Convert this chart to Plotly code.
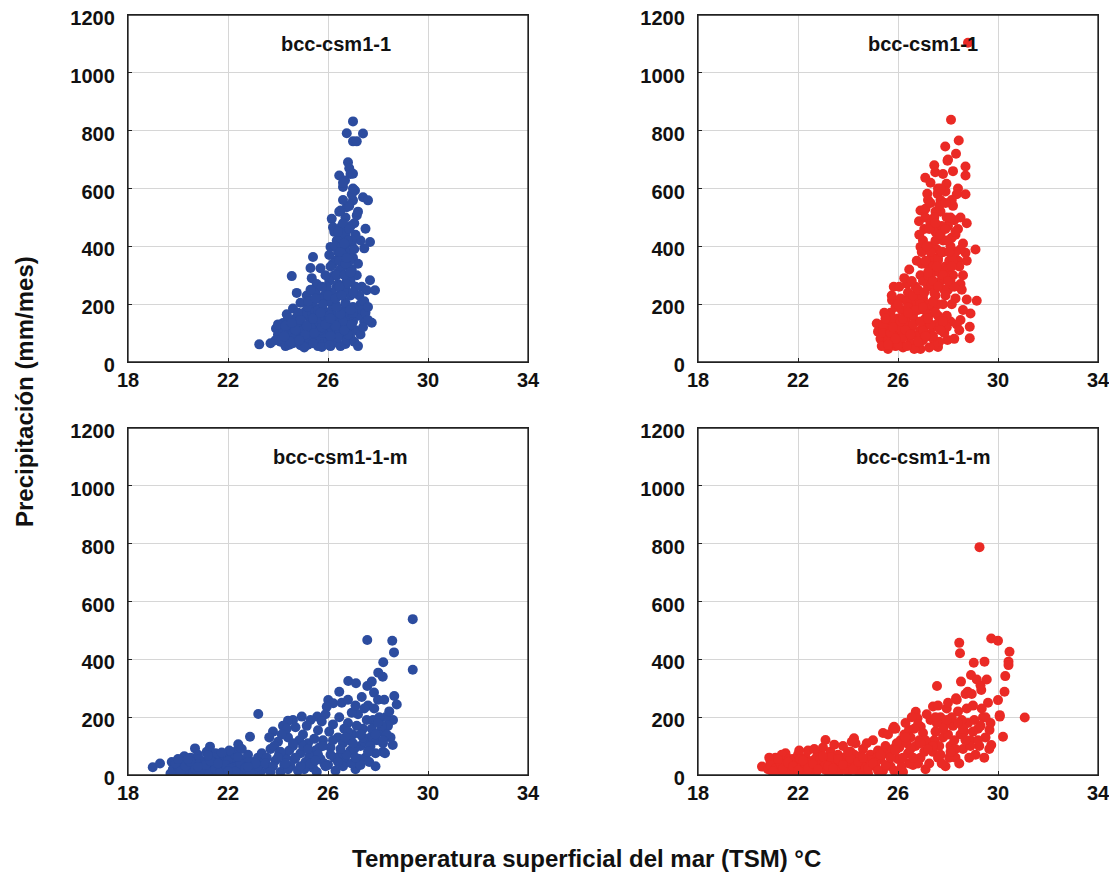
import plotly.graph_objects as go

# ---------------- data ----------------
# Panel A: bcc-csm1-1 (historical, blue)
t_a = [27.0, 26.75, 27.4, 27.0, 27.15, 26.8, 26.85, 26.9, 26.45, 26.68, 27.0, 26.6, 27.08, 27.4, 27.6, 27.0,
       26.75, 26.5, 27.15, 26.15, 26.2, 26.75, 27.5, 27.68, 26.1, 27.45, 25.4, 25.7, 24.55, 25.35, 27.68, 27.35,
       27.55, 27.88, 24.75, 25.4, 23.25, 27.75, 27.45, 23.92,
       24.1, 24.3, 24.4, 24.5, 24.6, 24.7, 24.8, 24.9, 25.0, 25.0, 25.1, 25.2, 25.2, 25.3, 25.4, 25.4, 25.5, 25.5,
       25.6, 25.6, 25.7, 25.7, 25.8, 25.8, 25.9, 25.9, 26.0, 26.0, 26.1, 26.1, 26.2, 26.2, 26.3, 26.3, 26.4, 24.2,
       24.0, 23.9, 23.7, 24.35, 24.6, 24.9, 25.15, 24.45, 25.05, 25.75, 26.05, 26.5, 26.7, 26.9, 27.1, 27.3, 27.2,
       27.0, 26.8, 26.6, 26.55, 26.45, 26.35, 26.25, 26.15, 26.05, 25.95, 25.85, 25.65, 25.5, 26.7, 26.9, 27.1,
       27.3, 27.15, 26.95, 26.75, 26.6, 26.5, 26.4, 26.3, 26.2, 26.1, 26.35, 26.5, 26.65, 26.8, 27.0, 27.2, 27.3,
       27.1, 26.9, 26.7, 26.55, 26.4, 26.25, 26.85, 26.95, 26.6, 27.2, 26.7, 26.95, 27.05, 26.3, 26.45, 26.6,
       27.0, 27.25, 27.35, 27.5, 27.6, 27.4, 27.0, 26.85, 26.65, 26.3, 26.2, 26.0, 25.8, 25.6, 25.3, 25.0, 24.8,
       24.55, 24.25, 24.0, 25.35, 25.9, 26.45, 26.75, 27.05, 27.2, 25.2, 24.65, 24.15, 26.55, 26.85, 27.05, 26.9,
       25.55, 25.75, 26.0, 25.45, 24.95, 26.15, 27.45, 27.6, 25.3, 26.05, 25.9,
       24.2, 24.4, 24.6, 24.8, 25.0, 25.2, 25.4, 25.6, 25.8, 26.0, 26.2, 26.4, 26.6, 26.8, 27.0,
       24.3, 24.5, 24.7, 24.9, 25.1, 25.3, 25.5, 25.7, 25.9, 26.1, 26.3, 26.5, 26.7, 26.9,
       24.25, 24.55, 24.85, 25.15, 25.45, 25.75, 26.05, 26.35, 26.65, 26.95,
       26.3, 26.4, 26.5, 26.6, 26.7, 26.8, 26.9, 27.0, 26.35, 26.45, 26.55, 26.65, 26.75, 26.85, 26.95,
       26.4, 26.5, 26.6, 26.7, 26.8, 26.9, 26.45, 26.55, 26.65, 26.75, 26.85,
       25.2, 25.4, 25.6, 25.8, 26.0, 25.3, 25.5, 25.7, 25.9, 26.1]
p_a = [832, 791, 790, 763, 763, 691, 670, 650, 645, 628, 651, 605, 593, 570, 559, 559,
       535, 524, 507, 495, 466, 461, 461, 415, 398, 393, 363, 324, 297, 290, 283, 260,
       248, 248, 239, 250, 61, 136, 140, 116,
       70, 55, 90, 120, 65, 150, 100, 58, 130, 80, 175, 60, 110, 145, 75, 200, 95, 160,
       55, 125, 185, 85, 140, 62, 105, 215, 170, 75, 130, 55, 190, 95, 150, 68, 115, 135,
       95, 75, 65, 165, 185, 205, 230, 60, 50, 52, 58, 55, 62, 85, 110, 95, 160,
       140, 120, 90, 175, 230, 260, 300, 240, 280, 260, 230, 220, 240, 200, 230, 260,
       200, 300, 320, 280, 330, 360, 310, 350, 340, 330, 420, 430, 400, 380, 360, 340, 420,
       440, 470, 500, 470, 380, 450, 540, 580, 560, 520, 440, 410, 480, 400, 520, 620,
       600, 230, 180, 170, 145, 120, 190, 160, 145, 200, 120, 100, 180, 150, 170, 160, 130,
       100, 110, 130, 90, 140, 100, 75, 70, 55, 85, 75, 80, 260, 300, 390, 360,
       270, 260, 210, 125, 110, 180, 210, 190, 325, 370, 300,
       100, 150, 80, 170, 110, 190, 65, 140, 100, 230, 160, 85, 140, 95, 170,
       125, 70, 110, 145, 95, 120, 175, 110, 155, 90, 125, 165, 205, 180,
       88, 135, 75, 125, 100, 120, 160, 190, 110, 130,
       220, 270, 320, 370, 250, 330, 280, 240, 300, 350, 400, 300, 270, 350, 420,
       450, 380, 480, 340, 420, 310, 260, 230, 410, 360, 460,
       210, 150, 180, 200, 140, 250, 220, 170, 130, 150]

# Panel B: bcc-csm1-1 (scenario, red)
t_b = [28.8, 28.12, 28.43, 27.89, 28.32, 27.98, 28.7, 27.49, 27.09, 28.7, 27.94, 27.17, 27.58, 28.7, 26.9,
       26.84, 28.75, 26.9, 29.1, 28.7, 28.75, 25.83, 26.36, 25.76, 28.75, 29.15, 28.9, 28.5, 28.87, 28.87,
       25.15, 25.2, 27.98, 26.9, 27.6,
       25.3, 25.4, 25.5, 25.5, 25.6, 25.7, 25.7, 25.8, 25.9, 25.9, 26.0, 26.0, 26.1, 26.1, 26.2, 26.2, 26.3,
       26.3, 26.4, 26.4, 26.5, 26.5, 26.6, 26.6, 26.7, 26.7, 26.8, 26.8, 26.9, 26.9, 27.0, 27.0, 27.1, 27.1,
       27.2, 27.2, 27.3, 27.3, 27.4, 27.4, 27.5, 27.5, 27.6, 27.6, 27.7, 27.7, 27.8, 27.8, 27.9, 27.9, 28.0,
       28.0, 28.1, 28.1, 28.2, 28.2, 28.3, 28.3, 28.4, 28.4, 28.5, 28.5, 28.6, 28.6, 27.0, 27.1, 27.2, 27.3,
       27.45, 27.6, 27.8, 28.0, 28.2, 28.35, 28.5, 28.45, 28.6, 28.55, 27.15, 26.95, 27.05, 26.85, 26.95,
       27.35, 27.55, 27.75, 27.85, 28.05, 28.15, 28.25, 27.65, 27.45, 27.25, 27.95, 28.15, 28.35, 28.45, 27.85,
       27.65, 27.45, 27.25, 26.65, 26.35, 26.0, 25.6, 25.35, 25.45, 25.75, 26.05, 26.25, 26.45, 26.55, 26.75,
       26.35, 26.15, 25.95, 25.55, 26.55, 26.75, 27.05, 27.35, 27.55, 27.75, 27.95, 28.25, 26.85, 27.05,
       27.25, 27.6, 27.9, 28.1, 28.3, 28.4, 28.15, 27.95, 27.7, 27.5, 27.3, 26.9, 26.6, 26.3, 26.1, 25.8, 25.4,
       25.4, 25.6, 25.8, 26.0, 26.2, 26.4, 26.6, 26.8, 27.0, 27.2, 27.4, 27.6, 27.8,
       25.5, 25.7, 25.9, 26.1, 26.3, 26.5, 26.7, 26.9, 27.1, 27.3, 27.5, 27.7,
       25.6, 25.8, 26.0, 26.2, 26.4, 26.6, 26.8, 27.0, 27.2, 27.4,
       27.0, 27.1, 27.2, 27.3, 27.4, 27.5, 27.6, 27.7, 27.8, 27.9, 28.0, 28.1, 28.2, 28.3,
       27.05, 27.15, 27.25, 27.35, 27.45, 27.55, 27.65, 27.75, 27.85, 27.95, 28.05, 28.15, 28.25,
       27.1, 27.3, 27.5, 27.7, 27.9, 28.1, 27.2, 27.4, 27.6, 27.8, 28.0]
p_b = [1104, 838, 766, 745, 720, 696, 676, 656, 637, 645, 616, 582, 582, 580, 524,
       487, 480, 398, 389, 378, 350, 260, 271, 214, 216, 212, 168, 145, 122, 82,
       133, 105, 76, 45, 52,
       80, 110, 60, 140, 95, 170, 70, 125, 55, 190, 100, 150, 75, 220, 130, 50, 175,
       90, 240, 115, 65, 160, 200, 95, 140, 260, 55, 180, 110, 300, 220, 75, 150, 340,
       260, 95, 190, 400, 120, 310, 230, 450, 160, 360, 280, 520, 200, 420, 330, 590, 250,
       470, 380, 140, 300, 540, 440, 220, 350, 600, 270, 500, 410, 180, 420, 500, 560, 620,
       680, 600, 650, 700, 660, 580, 390, 330, 300, 250, 280, 380, 460, 440, 340,
       360, 390, 470, 250, 350, 430, 490, 310, 240, 330, 160, 200, 130, 110, 100,
       70, 60, 50, 45, 55, 60, 45, 55, 170, 230, 260, 290, 320, 280, 350,
       210, 180, 140, 110, 120, 90, 120, 85, 130, 150, 120, 80, 220, 180,
       200, 200, 230, 280, 380, 460, 560, 500, 560, 520, 480, 200, 160, 140, 100, 90, 130,
       100, 75, 150, 120, 85, 190, 130, 70, 110, 160, 90, 120, 140,
       150, 100, 80, 140, 110, 95, 180, 140, 90, 130, 170, 110,
       60, 120, 200, 150, 170, 230, 250, 190, 150, 210,
       280, 350, 300, 380, 330, 420, 350, 440, 380, 460, 320, 400, 350, 450,
       240, 400, 460, 270, 500, 330, 540, 380, 300, 420, 380, 330, 260,
       530, 550, 480, 600, 550, 500, 310, 280, 260, 300, 280]

# Panel C: bcc-csm1-1-m (historical, blue)
t_c = [29.39, 29.39, 27.57, 28.57, 28.64, 28.21, 28.01, 28.19, 26.81, 27.12, 27.57, 27.75, 26.45, 27.84,
       28.65, 28.75, 26.01, 26.21, 25.95, 23.21, 24.95, 25.57, 24.6, 24.4, 28.6, 28.59, 28.2, 22.88, 20.68,
       21.28, 18.99, 19.28, 22.41, 27.21, 28.28,
       19.7, 19.8, 19.9, 20.0, 20.1, 20.2, 20.3, 20.4, 20.5, 20.6, 20.7, 20.8, 20.9, 21.0, 21.1, 21.2, 21.3,
       21.4, 21.5, 21.6, 21.7, 21.8, 21.9, 22.0, 22.1, 22.2, 22.3, 22.4, 22.5, 22.6, 22.7, 22.8, 22.9, 23.0,
       23.1, 23.2, 23.3, 23.4, 19.75, 20.05, 20.35, 20.65, 20.95, 21.25, 21.55, 21.85, 22.15, 22.45, 22.75,
       23.05, 23.35, 20.25, 20.85, 21.45, 22.05, 21.75, 19.85, 21.15, 22.55,
       23.6, 23.7, 23.8, 23.9, 24.0, 24.1, 24.2, 24.3, 24.4, 24.5, 24.6, 24.7, 24.8, 24.9, 25.0, 25.1, 25.2,
       25.3, 25.4, 25.5, 25.6, 25.7, 25.8, 25.9, 26.0, 26.1, 26.2, 26.3, 26.4, 26.5, 23.65, 23.85, 24.05,
       24.25, 24.45, 24.65, 24.85, 25.05, 25.25, 25.45, 25.65, 25.85, 26.05, 26.25, 26.45, 24.35, 25.15,
       25.75, 23.55, 24.15, 25.55,
       26.6, 26.7, 26.8, 26.9, 27.0, 27.1, 27.2, 27.3, 27.4, 27.5, 27.6, 27.7, 27.8, 27.9, 28.0, 28.1, 28.2,
       28.3, 28.4, 28.5, 26.55, 26.65, 26.75, 26.85, 26.95, 27.05, 27.15, 27.25, 27.35, 27.45, 27.55, 27.65,
       27.75, 27.85, 27.95, 28.05, 28.15, 28.25, 28.35, 28.45, 26.6, 26.95, 27.3, 27.65, 27.9, 26.8, 27.1,
       27.45,
       19.8, 20.0, 20.2, 20.4, 20.6, 20.8, 21.0, 21.2, 21.4, 21.6, 21.8, 22.0, 22.2, 22.4, 22.6, 22.8, 23.0, 23.2,
       19.9, 20.1, 20.3, 20.5, 20.7, 20.9, 21.1, 21.3, 21.5, 21.7, 21.9, 22.1, 22.3, 22.5, 22.7, 22.9, 23.1,
       20.0, 20.4, 20.8, 21.2, 21.6, 22.0, 22.4, 22.8,
       23.5, 23.8, 24.1, 24.4, 24.7, 25.0, 25.3, 25.6, 25.9, 26.2, 26.5, 26.8, 27.1, 27.4, 27.7, 28.0,
       23.7, 24.0, 24.3, 24.6, 24.9, 25.2, 25.5, 25.8, 26.1, 26.4, 26.7, 27.0, 27.3, 27.6, 27.9, 28.2]
p_c = [539, 364, 467, 464, 424, 390, 354, 340, 325, 317, 308, 323, 288, 285,
       273, 244, 259, 248, 236, 211, 202, 202, 190, 188, 190, 104, 80, 132, 92,
       98, 27, 40, 106, 38, 75,
       5, 20, 35, 10, 50, 25, 8, 40, 60, 15, 30, 70, 5, 45, 20, 55, 10,
       35, 75, 25, 50, 8, 65, 30, 15, 45, 80, 20, 55, 5, 35, 70, 15, 45,
       25, 60, 10, 40, 45, 30, 18, 45, 38, 28, 12, 40, 60, 38, 18,
       8, 75, 65, 55, 60, 85, 78, 12, 80, 90,
       20, 90, 150, 50, 115, 10, 170, 60, 130, 30, 100, 165, 15, 75, 140, 45, 110,
       190, 25, 85, 155, 55, 120, 210, 35, 95, 175, 15, 130, 70, 130, 100, 75,
       35, 85, 55, 120, 20, 65, 125, 95, 40, 150, 60, 200, 160, 170,
       185, 60, 140, 10,
       110, 45, 180, 85, 140, 20, 210, 100, 160, 60, 240, 130, 190, 75, 260, 150, 110,
       200, 170, 130, 250, 160, 70, 120, 215, 90, 170, 55, 270, 115, 190, 90,
       160, 230, 120, 200, 170, 260, 140, 220, 30, 40, 35, 45, 30, 260, 240,
       230,
       18, 28, 40, 22, 8, 38, 28, 15, 45, 10, 28, 48, 25, 10, 32, 45, 12, 30,
       40, 12, 30, 45, 20, 15, 35, 48, 20, 12, 35, 22, 12, 40, 25, 5, 40,
       55, 55, 28, 68, 40, 12, 62, 28,
       40, 30, 80, 20, 60, 100, 40, 70, 30, 120, 90, 150, 60, 130, 100, 180,
       10, 60, 40, 110, 30, 90, 50, 100, 70, 45, 130, 110, 140, 80, 140, 120]

# Panel D: bcc-csm1-1-m (scenario, red)
t_d = [29.26, 29.73, 30.0, 30.46, 28.45, 28.48, 30.42, 30.42, 29.03, 29.46, 30.29, 27.56, 28.52, 28.92,
       30.26, 30.0, 30.07, 30.07, 31.07, 29.66, 30.2, 29.73, 28.32, 28.79, 29.33, 26.71, 26.78, 27.4, 27.6,
       27.95, 25.84, 26.44, 26.91, 20.56, 23.1, 24.24, 25.4, 25.8,
       20.8, 20.9, 21.0, 21.1, 21.2, 21.3, 21.4, 21.5, 21.6, 21.7, 21.8, 21.9, 22.0, 22.1, 22.2, 22.3, 22.4,
       22.5, 22.6, 22.7, 22.8, 22.9, 23.0, 23.1, 23.2, 23.3, 23.4, 23.5, 23.6, 23.7, 23.8, 23.9, 24.0, 24.1,
       24.2, 24.3, 24.4, 24.5, 24.6, 24.7, 24.8, 24.9, 25.0, 25.1, 25.2, 25.3, 25.4, 25.5, 20.95, 21.25,
       21.55, 21.85, 22.15, 22.45, 22.75, 23.05, 23.35, 23.65, 23.95, 24.25, 24.55, 24.85, 25.15, 25.45,
       21.35, 22.05, 22.65, 23.45, 24.15, 24.75, 20.85, 21.65, 22.35, 23.25, 23.85, 24.45,
       25.6, 25.7, 25.8, 25.9, 26.0, 26.1, 26.2, 26.3, 26.4, 26.5, 26.6, 26.7, 26.8, 26.9, 27.0, 27.1, 27.2,
       27.3, 27.4, 27.5, 25.65, 25.85, 26.05, 26.25, 26.45, 26.65, 26.85, 27.05, 27.25, 27.45, 26.35, 26.15,
       25.95, 26.55, 27.15,
       27.6, 27.7, 27.8, 27.9, 28.0, 28.1, 28.2, 28.3, 28.4, 28.5, 28.6, 28.7, 28.8, 28.9, 29.0, 29.1, 29.2,
       29.3, 29.4, 29.5, 29.6, 27.65, 27.85, 28.05, 28.25, 28.45, 28.65, 28.85, 29.05, 29.25, 29.45, 27.75,
       28.15, 28.55, 28.95, 29.35, 29.55, 28.75, 29.15, 27.55, 27.95, 28.35, 29.7, 29.65,
       20.9, 21.1, 21.3, 21.5, 21.7, 21.9, 22.1, 22.3, 22.5, 22.7, 22.9, 23.1, 23.3, 23.5, 23.7, 23.9, 24.1,
       24.3, 24.5, 24.7, 24.9, 25.1, 25.3, 25.5, 25.7, 25.9,
       21.0, 21.2, 21.4, 21.6, 21.8, 22.0, 22.2, 22.4, 22.6, 22.8, 23.0, 23.2, 23.4, 23.6, 23.8, 24.0, 24.2,
       24.4, 24.6, 24.8, 25.0, 25.2,
       26.2, 26.5, 26.8, 27.1, 27.4, 27.7, 28.0, 28.3, 28.6, 28.9, 29.2, 29.5,
       26.3, 26.6, 26.9, 27.2, 27.5, 27.8, 28.1, 28.4, 28.7, 29.0, 29.3]
p_d = [788, 472, 464, 426, 457, 421, 392, 380, 388, 392, 342, 308, 323, 346,
       288, 259, 207, 202, 199, 156, 132, 104, 265, 288, 294, 219, 196, 237, 240,
       230, 167, 156, 167, 29, 121, 127, 145, 160,
       20, 45, 8, 60, 30, 15, 50, 75, 5, 35, 55, 20, 70, 40, 10, 60, 85,
       25, 50, 5, 75, 35, 95, 18, 55, 80, 8, 40, 70, 25, 100, 50, 12, 80,
       35, 110, 60, 20, 90, 45, 5, 70, 120, 30, 85, 55, 15, 100, 25, 40,
       30, 12, 25, 45, 62, 30, 45, 10, 30, 70, 40, 30, 60, 75,
       70, 85, 90, 105, 115, 110, 60, 55, 5, 5, 60, 5,
       140, 30, 90, 160, 55, 120, 10, 180, 75, 130, 35, 100, 175, 60, 145, 20, 110,
       190, 80, 150, 70, 15, 95, 140, 40, 160, 120, 80, 40, 120, 110, 30,
       110, 200, 210,
       60, 200, 130, 30, 250, 100, 170, 60, 220, 140, 90, 280, 180, 120, 240, 70, 160,
       310, 200, 130, 250, 100, 170, 60, 120, 40, 150, 60, 190, 100, 60, 40,
       200, 190, 280, 230, 330, 230, 330, 180, 190, 260, 180, 90,
       35, 22, 40, 15, 48, 35, 55, 28, 40, 22, 55, 35, 62, 25, 45, 20, 55,
       30, 65, 25, 50, 45, 70, 35, 60, 85,
       12, 55, 22, 42, 30, 15, 50, 22, 38, 18, 65, 30, 22, 55, 35, 80, 18,
       45, 60, 22, 40, 15,
       60, 90, 40, 120, 100, 70, 140, 90, 160, 100, 120, 200,
       130, 60, 110, 90, 200, 160, 80, 180, 120, 150, 170]

panel_titles = ["bcc-csm1-1", "bcc-csm1-1", "bcc-csm1-1-m", "bcc-csm1-1-m"]
x_ticks = [18, 22, 26, 30, 34]
y_ticks = [0, 200, 400, 600, 800, 1000, 1200]

BLUE = "#2c4c9f"
RED = "#ea2a25"

# page is offset by the 8px body margin -> figure drawn 8px smaller, coordinates shifted
OFF = 8
W, H = 1117 - OFF, 878 - OFF
FONT = "Liberation Sans, Arial, Helvetica, sans-serif"


def hx(px):
    return (px - OFF) / W


def vy(py):
    return 1 - (py - OFF) / H


x_doms = [[hx(128), hx(528)], [hx(698), hx(1098)]]
y_doms = [[vy(362), vy(15)], [vy(775), vy(428)]]

fig = go.Figure()

panels = [
    (t_a, p_a, BLUE, 0, 0, 26.3),
    (t_b, p_b, RED, 0, 1, 27.0),
    (t_c, p_c, BLUE, 1, 0, 26.5),
    (t_d, p_d, RED, 1, 1, 27.0),
]

for i, (tx, py, col, r, c, tx_title) in enumerate(panels):
    n = i + 1
    xa = "x" if n == 1 else f"x{n}"
    ya = "y" if n == 1 else f"y{n}"
    fig.add_trace(go.Scatter(
        x=tx, y=py, mode="markers", xaxis=xa, yaxis=ya,
        marker=dict(color=col, size=10, line=dict(width=0)),
        showlegend=False, hoverinfo="x+y"))
    axis_common = dict(
        showline=True, linecolor="#222222", linewidth=1.3, mirror=True,
        showgrid=True, gridcolor="#d6d6d6", gridwidth=1,
        ticks="inside", ticklen=4, tickcolor="#222222", tickwidth=1,
        zeroline=False, automargin=False, ticklabeloverflow="allow",
        tickfont=dict(family=FONT, size=20, color="#111111", weight="bold"),
    )
    fig.layout[f"xaxis{'' if n == 1 else n}"] = dict(
        axis_common, domain=x_doms[c], anchor=ya, range=[18, 34],
        tickmode="array", tickvals=x_ticks, ticktext=[str(v) for v in x_ticks])
    fig.layout[f"yaxis{'' if n == 1 else n}"] = dict(
        axis_common, domain=y_doms[r], anchor=xa, range=[0, 1200],
        tickmode="array", tickvals=y_ticks, ticktext=[str(v) for v in y_ticks],
        ticklabelstandoff=8, ticklabelshift=3)
    # dark frame around each panel
    fig.add_shape(type="rect", xref=f"{xa} domain", yref=f"{ya} domain",
                  x0=0, x1=1, y0=0, y1=1, line=dict(color="#222222", width=1.3),
                  fillcolor="rgba(0,0,0,0)", layer="above")
    fig.add_annotation(
        x=tx_title, y=1100, xref=xa, yref=ya, text=panel_titles[i], showarrow=False,
        font=dict(family=FONT, size=20, color="#111111", weight="bold"),
        xanchor="center", yanchor="middle")

fig.add_annotation(
    x=hx(586), y=vy(858), xref="paper", yref="paper",
    text="Temperatura superficial del mar (TSM) °C", showarrow=False,
    font=dict(family=FONT, size=24, color="#111111", weight="bold"),
    xanchor="center", yanchor="middle")
fig.add_annotation(
    x=hx(24), y=vy(392), xref="paper", yref="paper",
    text="Precipitación (mm/mes)", showarrow=False, textangle=-90,
    font=dict(family=FONT, size=24, color="#111111", weight="bold"),
    xanchor="center", yanchor="middle")

fig.update_layout(
    width=W, height=H,
    margin=dict(l=0, r=0, t=0, b=0, autoexpand=False),
    paper_bgcolor="white", plot_bgcolor="white",
    font=dict(family=FONT),
)

fig.write_html("out.html")
